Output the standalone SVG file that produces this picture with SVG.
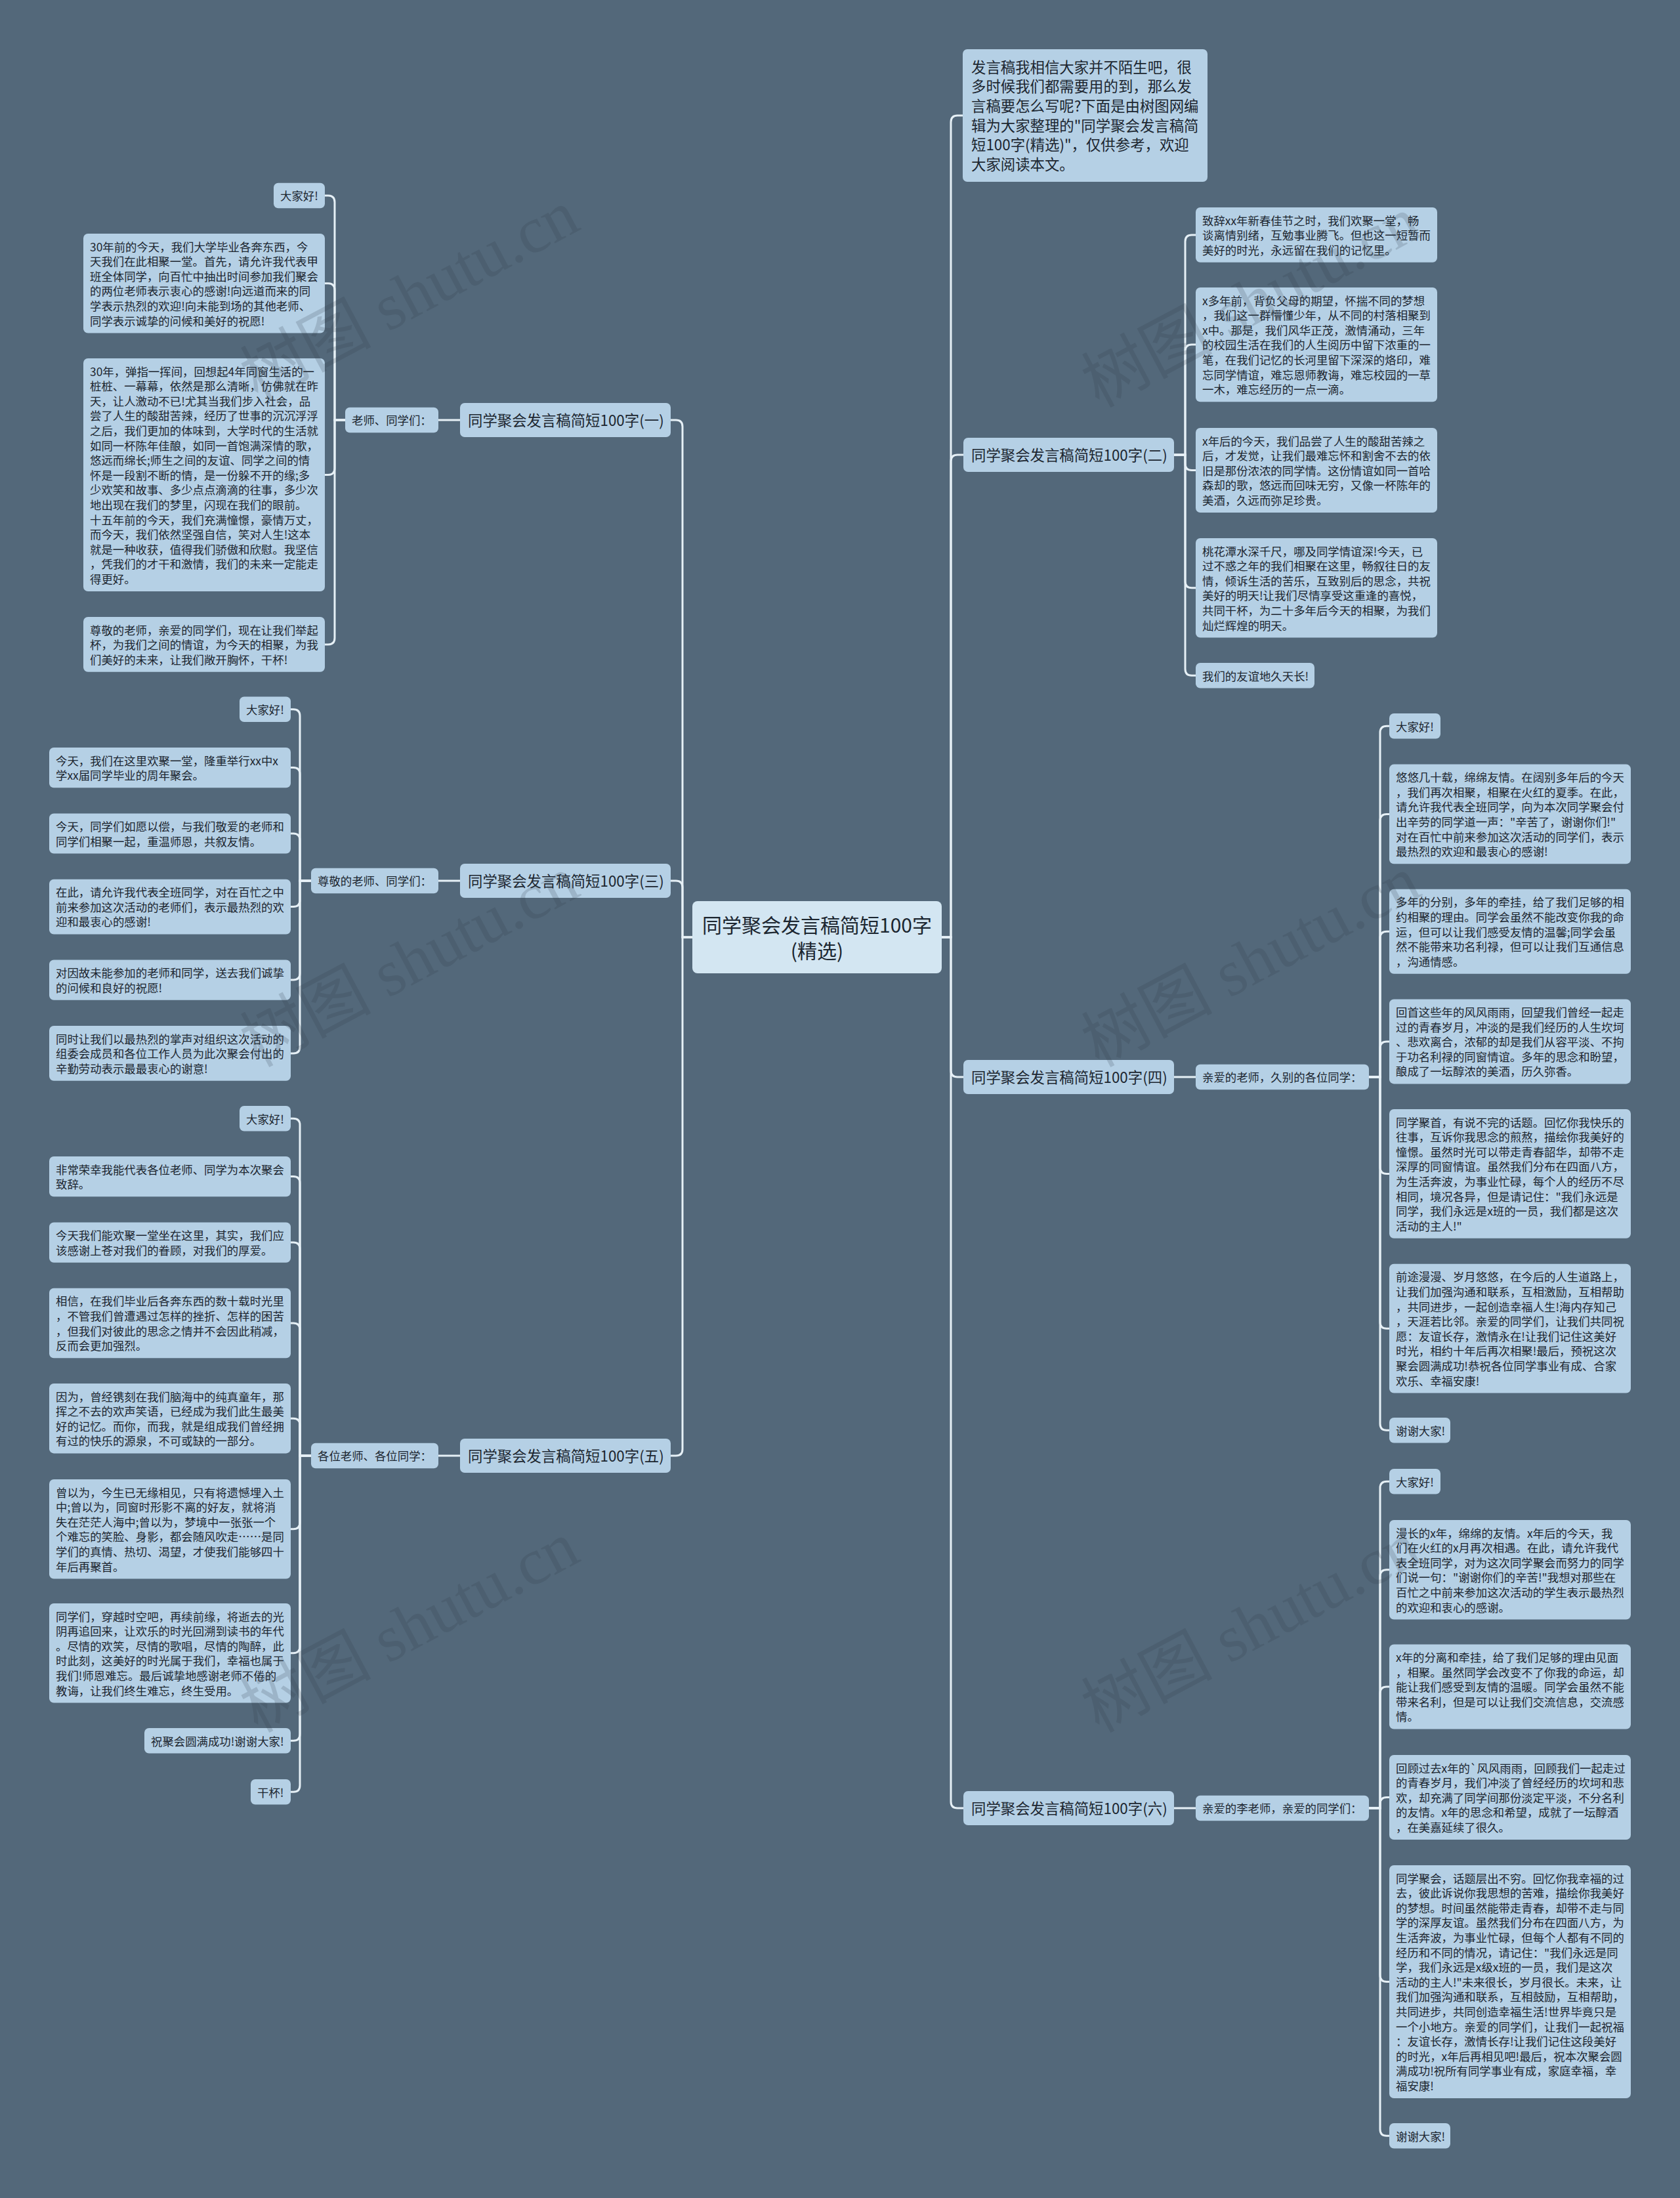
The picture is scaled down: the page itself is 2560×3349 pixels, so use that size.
<svg xmlns="http://www.w3.org/2000/svg" width="2560" height="3349" viewBox="0 0 2560 3349">
<style>
.bg{fill:#53687a}
.n{fill:#b5d0e5;rx:7px;ry:7px}
.c{fill:#d3e6f2;rx:8px;ry:8px}
.t{font-family:"Noto Sans CJK SC","Noto Sans",sans-serif;font-size:17.4px;fill:#1c2630}
.bt{font-family:"Noto Sans CJK SC","Noto Sans",sans-serif;font-size:22.4px;fill:#1c2630}
.ct{font-family:"Noto Sans CJK SC","Noto Sans",sans-serif;font-size:30px;fill:#1c2630}
.conn path{fill:none;stroke:#e6f0f6;stroke-width:3}
.wm{font-family:"Liberation Serif","Noto Sans CJK SC",serif;font-size:100px;fill:#2e3c48;opacity:0.18}
</style>
<rect class="bg" x="0" y="0" width="2560" height="3349"/>

<g class="conn" id="connectors">
<!-- center to branches -->
<path d="M1055,1428 H1040 V650 Q1040,640 1030,640 H1022"/>
<path d="M1055,1428 H1040 V1352 Q1040,1342 1030,1342 H1022"/>
<path d="M1055,1428 H1040 V2208 Q1040,2218 1030,2218 H1022"/>
<path d="M1435,1428 H1449 V186 Q1449,176 1459,176 H1467"/>
<path d="M1435,1428 H1449 V703 Q1449,693 1459,693 H1468"/>
<path d="M1435,1428 H1449 V1631 Q1449,1641 1459,1641 H1468"/>
<path d="M1435,1428 H1449 V2745 Q1449,2755 1459,2755 H1468"/>
<!-- branch to labels -->
<path d="M701,640 H668"/>
<path d="M701,1342 H668"/>
<path d="M701,2218 H668"/>
<path d="M1789,1641 H1822"/>
<path d="M1789,2755 H1822"/>
<!-- (一) -->
<path d="M526,640 H510 V308 Q510,298 500,298 H495"/>
<path d="M526,640 H510 V441.8 Q510,431.8 500,431.8 H495"/>
<path d="M526,640 H510 V713.5 Q510,723.5 500,723.5 H495"/>
<path d="M526,640 H510 V971.9 Q510,981.9 500,981.9 H495"/>
<!-- (三) -->
<path d="M474,1342 H457 V1090.8 Q457,1080.8 447,1080.8 H443"/>
<path d="M474,1342 H457 V1179.6 Q457,1169.6 447,1169.6 H443"/>
<path d="M474,1342 H457 V1280 Q457,1270 447,1270 H443"/>
<path d="M474,1342 H457 V1371.6 Q457,1381.6 447,1381.6 H443"/>
<path d="M474,1342 H457 V1483.1 Q457,1493.1 447,1493.1 H443"/>
<path d="M474,1342 H457 V1594.9 Q457,1604.9 447,1604.9 H443"/>
<!-- (五) -->
<path d="M474,2218 H457 V1714.3 Q457,1704.3 447,1704.3 H443"/>
<path d="M474,2218 H457 V1802.6 Q457,1792.6 447,1792.6 H443"/>
<path d="M474,2218 H457 V1903.1 Q457,1893.1 447,1893.1 H443"/>
<path d="M474,2218 H457 V2026 Q457,2016 447,2016 H443"/>
<path d="M474,2218 H457 V2171.2 Q457,2161.2 447,2161.2 H443"/>
<path d="M474,2218 H457 V2319.8 Q457,2329.8 447,2329.8 H443"/>
<path d="M474,2218 H457 V2508.8 Q457,2518.8 447,2518.8 H443"/>
<path d="M474,2218 H457 V2642.3 Q457,2652.3 447,2652.3 H443"/>
<path d="M474,2218 H457 V2720.3 Q457,2730.3 447,2730.3 H443"/>
<!-- (二) -->
<path d="M1789,693 H1806 V367.9 Q1806,357.9 1816,357.9 H1822"/>
<path d="M1789,693 H1806 V535.1 Q1806,525.1 1816,525.1 H1822"/>
<path d="M1789,693 H1806 V706.5 Q1806,716.5 1816,716.5 H1822"/>
<path d="M1789,693 H1806 V885.8 Q1806,895.8 1816,895.8 H1822"/>
<path d="M1789,693 H1806 V1019.3 Q1806,1029.3 1816,1029.3 H1822"/>
<!-- (四) -->
<path d="M2086,1641 H2103 V1116.3 Q2103,1106.3 2113,1106.3 H2117"/>
<path d="M2086,1641 H2103 V1250.4 Q2103,1240.4 2113,1240.4 H2117"/>
<path d="M2086,1641 H2103 V1429.3 Q2103,1419.3 2113,1419.3 H2117"/>
<path d="M2086,1641 H2103 V1596.9 Q2103,1586.9 2113,1586.9 H2117"/>
<path d="M2086,1641 H2103 V1778.4 Q2103,1788.4 2113,1788.4 H2117"/>
<path d="M2086,1641 H2103 V2014.2 Q2103,2024.2 2113,2024.2 H2117"/>
<path d="M2086,1641 H2103 V2169.3 Q2103,2179.3 2113,2179.3 H2117"/>
<!-- (六) -->
<path d="M2086,2755 H2103 V2267.3 Q2103,2257.3 2113,2257.3 H2117"/>
<path d="M2086,2755 H2103 V2401.8 Q2103,2391.8 2113,2391.8 H2117"/>
<path d="M2086,2755 H2103 V2580 Q2103,2570 2113,2570 H2117"/>
<path d="M2086,2755 H2103 V2748.5 Q2103,2738.5 2113,2738.5 H2117"/>
<path d="M2086,2755 H2103 V3009.5 Q2103,3019.5 2113,3019.5 H2117"/>
<path d="M2086,2755 H2103 V3244.3 Q2103,3254.3 2113,3254.3 H2117"/>
</g>

<g id="center">
<rect class="c" x="1055" y="1373" width="380" height="110"/>
<text class="ct" x="1245" y="1421" text-anchor="middle">同学聚会发言稿简短100字</text>
<text class="ct" x="1245" y="1459.5" text-anchor="middle">(精选)</text>
</g>

<g id="intro">
<rect class="n" x="1467" y="75" width="373" height="202"/>
<text class="bt" x="1480" y="110.5">
<tspan x="1480" dy="0">发言稿我相信大家并不陌生吧，很</tspan>
<tspan x="1480" dy="29.7">多时候我们都需要用的到，那么发</tspan>
<tspan x="1480" dy="29.7">言稿要怎么写呢?下面是由树图网编</tspan>
<tspan x="1480" dy="29.7">辑为大家整理的"同学聚会发言稿简</tspan>
<tspan x="1480" dy="29.7">短100字(精选)"，仅供参考，欢迎</tspan>
<tspan x="1480" dy="29.7">大家阅读本文。</tspan>
</text>
</g>

<!-- branches -->
<g id="b1"><rect class="n" x="701" y="614" width="321" height="52"/><text class="bt" x="713" y="648.5">同学聚会发言稿简短100字(一)</text></g>
<g id="b3"><rect class="n" x="701" y="1316" width="321" height="52"/><text class="bt" x="713" y="1350.5">同学聚会发言稿简短100字(三)</text></g>
<g id="b5"><rect class="n" x="701" y="2192" width="321" height="52"/><text class="bt" x="713" y="2226.5">同学聚会发言稿简短100字(五)</text></g>
<g id="b2"><rect class="n" x="1468" y="667" width="321" height="52"/><text class="bt" x="1480" y="701.5">同学聚会发言稿简短100字(二)</text></g>
<g id="b4"><rect class="n" x="1468" y="1615" width="321" height="52"/><text class="bt" x="1480" y="1649.5">同学聚会发言稿简短100字(四)</text></g>
<g id="b6"><rect class="n" x="1468" y="2729" width="321" height="52"/><text class="bt" x="1480" y="2763.5">同学聚会发言稿简短100字(六)</text></g>

<!-- labels -->
<g id="l1"><rect class="n" x="526" y="620.7" width="142" height="38.6"/><text class="t" x="536" y="647.2">老师、同学们：</text></g>
<g id="l3"><rect class="n" x="474" y="1322.7" width="194" height="38.6"/><text class="t" x="484" y="1349.2">尊敬的老师、同学们：</text></g>
<g id="l5"><rect class="n" x="474" y="2198.7" width="194" height="38.6"/><text class="t" x="484" y="2225.2">各位老师、各位同学：</text></g>
<g id="l4"><rect class="n" x="1822" y="1621.7" width="264" height="38.6"/><text class="t" x="1832" y="1648.2">亲爱的老师，久别的各位同学：</text></g>
<g id="l6"><rect class="n" x="1822" y="2735.7" width="264" height="38.6"/><text class="t" x="1832" y="2762.2">亲爱的李老师，亲爱的同学们：</text></g>

<!-- (一) children -->
<g id="f1"><rect class="n" x="417" y="278.7" width="78" height="38.6"/><text class="t" x="427" y="305.2">大家好!</text></g>
<g id="f2"><rect class="n" x="127" y="356" width="368" height="151.6"/><text class="t" x="137" y="382.5">
<tspan x="137" dy="0">30年前的今天，我们大学毕业各奔东西，今</tspan>
<tspan x="137" dy="22.6">天我们在此相聚一堂。首先，请允许我代表甲</tspan>
<tspan x="137" dy="22.6">班全体同学，向百忙中抽出时间参加我们聚会</tspan>
<tspan x="137" dy="22.6">的两位老师表示衷心的感谢!向远道而来的同</tspan>
<tspan x="137" dy="22.6">学表示热烈的欢迎!向未能到场的其他老师、</tspan>
<tspan x="137" dy="22.6">同学表示诚挚的问候和美好的祝愿!</tspan>
</text></g>
<g id="f3"><rect class="n" x="127" y="546" width="368" height="355"/><text class="t" x="137" y="572.5">
<tspan x="137" dy="0">30年，弹指一挥间，回想起4年同窗生活的一</tspan>
<tspan x="137" dy="22.6">桩桩、一幕幕，依然是那么清晰，仿佛就在昨</tspan>
<tspan x="137" dy="22.6">天，让人激动不已!尤其当我们步入社会，品</tspan>
<tspan x="137" dy="22.6">尝了人生的酸甜苦辣，经历了世事的沉沉浮浮</tspan>
<tspan x="137" dy="22.6">之后，我们更加的体味到，大学时代的生活就</tspan>
<tspan x="137" dy="22.6">如同一杯陈年佳酿，如同一首饱满深情的歌，</tspan>
<tspan x="137" dy="22.6">悠远而绵长;师生之间的友谊、同学之间的情</tspan>
<tspan x="137" dy="22.6">怀是一段割不断的情，是一份躲不开的缘;多</tspan>
<tspan x="137" dy="22.6">少欢笑和故事、多少点点滴滴的往事，多少次</tspan>
<tspan x="137" dy="22.6">地出现在我们的梦里，闪现在我们的眼前。</tspan>
<tspan x="137" dy="22.6">十五年前的今天，我们充满憧憬，豪情万丈，</tspan>
<tspan x="137" dy="22.6">而今天，我们依然坚强自信，笑对人生!这本</tspan>
<tspan x="137" dy="22.6">就是一种收获，值得我们骄傲和欣慰。我坚信</tspan>
<tspan x="137" dy="22.6">，凭我们的才干和激情，我们的未来一定能走</tspan>
<tspan x="137" dy="22.6">得更好。</tspan>
</text></g>
<g id="f4"><rect class="n" x="127" y="940" width="368" height="83.8"/><text class="t" x="137" y="966.5">
<tspan x="137" dy="0">尊敬的老师，亲爱的同学们，现在让我们举起</tspan>
<tspan x="137" dy="22.6">杯，为我们之间的情谊，为今天的相聚，为我</tspan>
<tspan x="137" dy="22.6">们美好的未来，让我们敞开胸怀，干杯!</tspan>
</text></g>

<!-- (三) children -->
<g id="g1"><rect class="n" x="365" y="1061.5" width="78" height="38.6"/><text class="t" x="375" y="1088">大家好!</text></g>
<g id="g2"><rect class="n" x="75" y="1139" width="368" height="61.2"/><text class="t" x="85" y="1165.5">
<tspan x="85" dy="0">今天，我们在这里欢聚一堂，隆重举行xx中x</tspan>
<tspan x="85" dy="22.6">学xx届同学毕业的周年聚会。</tspan>
</text></g>
<g id="g3"><rect class="n" x="75" y="1239.4" width="368" height="61.2"/><text class="t" x="85" y="1265.9">
<tspan x="85" dy="0">今天，同学们如愿以偿，与我们敬爱的老师和</tspan>
<tspan x="85" dy="22.6">同学们相聚一起，重温师恩，共叙友情。</tspan>
</text></g>
<g id="g4"><rect class="n" x="75" y="1339.7" width="368" height="83.8"/><text class="t" x="85" y="1366.2">
<tspan x="85" dy="0">在此，请允许我代表全班同学，对在百忙之中</tspan>
<tspan x="85" dy="22.6">前来参加这次活动的老师们，表示最热烈的欢</tspan>
<tspan x="85" dy="22.6">迎和最衷心的感谢!</tspan>
</text></g>
<g id="g5"><rect class="n" x="75" y="1462.5" width="368" height="61.2"/><text class="t" x="85" y="1489">
<tspan x="85" dy="0">对因故未能参加的老师和同学，送去我们诚挚</tspan>
<tspan x="85" dy="22.6">的问候和良好的祝愿!</tspan>
</text></g>
<g id="g6"><rect class="n" x="75" y="1563" width="368" height="83.8"/><text class="t" x="85" y="1589.5">
<tspan x="85" dy="0">同时让我们以最热烈的掌声对组织这次活动的</tspan>
<tspan x="85" dy="22.6">组委会成员和各位工作人员为此次聚会付出的</tspan>
<tspan x="85" dy="22.6">辛勤劳动表示最最衷心的谢意!</tspan>
</text></g>

<!-- (五) children -->
<g id="h1"><rect class="n" x="365" y="1685" width="78" height="38.6"/><text class="t" x="375" y="1711.5">大家好!</text></g>
<g id="h2"><rect class="n" x="75" y="1762" width="368" height="61.2"/><text class="t" x="85" y="1788.5">
<tspan x="85" dy="0">非常荣幸我能代表各位老师、同学为本次聚会</tspan>
<tspan x="85" dy="22.6">致辞。</tspan>
</text></g>
<g id="h3"><rect class="n" x="75" y="1862.5" width="368" height="61.2"/><text class="t" x="85" y="1889">
<tspan x="85" dy="0">今天我们能欢聚一堂坐在这里，其实，我们应</tspan>
<tspan x="85" dy="22.6">该感谢上苍对我们的眷顾，对我们的厚爱。</tspan>
</text></g>
<g id="h4"><rect class="n" x="75" y="1962.8" width="368" height="106.4"/><text class="t" x="85" y="1989.3">
<tspan x="85" dy="0">相信，在我们毕业后各奔东西的数十载时光里</tspan>
<tspan x="85" dy="22.6">，不管我们曾遭遇过怎样的挫折、怎样的困苦</tspan>
<tspan x="85" dy="22.6">，但我们对彼此的思念之情并不会因此稍减，</tspan>
<tspan x="85" dy="22.6">反而会更加强烈。</tspan>
</text></g>
<g id="h5"><rect class="n" x="75" y="2108" width="368" height="106.4"/><text class="t" x="85" y="2134.5">
<tspan x="85" dy="0">因为，曾经镌刻在我们脑海中的纯真童年，那</tspan>
<tspan x="85" dy="22.6">挥之不去的欢声笑语，已经成为我们此生最美</tspan>
<tspan x="85" dy="22.6">好的记忆。而你，而我，就是组成我们曾经拥</tspan>
<tspan x="85" dy="22.6">有过的快乐的源泉，不可或缺的一部分。</tspan>
</text></g>
<g id="h6"><rect class="n" x="75" y="2254" width="368" height="151.6"/><text class="t" x="85" y="2280.5">
<tspan x="85" dy="0">曾以为，今生已无缘相见，只有将遗憾埋入土</tspan>
<tspan x="85" dy="22.6">中;曾以为，同窗时形影不离的好友，就将消</tspan>
<tspan x="85" dy="22.6">失在茫茫人海中;曾以为，梦境中一张张一个</tspan>
<tspan x="85" dy="22.6">个难忘的笑脸、身影，都会随风吹走……是同</tspan>
<tspan x="85" dy="22.6">学们的真情、热切、渴望，才使我们能够四十</tspan>
<tspan x="85" dy="22.6">年后再聚首。</tspan>
</text></g>
<g id="h7"><rect class="n" x="75" y="2443" width="368" height="151.6"/><text class="t" x="85" y="2469.5">
<tspan x="85" dy="0">同学们，穿越时空吧，再续前缘，将逝去的光</tspan>
<tspan x="85" dy="22.6">阴再追回来，让欢乐的时光回溯到读书的年代</tspan>
<tspan x="85" dy="22.6">。尽情的欢笑，尽情的歌唱，尽情的陶醉，此</tspan>
<tspan x="85" dy="22.6">时此刻，这美好的时光属于我们，幸福也属于</tspan>
<tspan x="85" dy="22.6">我们!师恩难忘。最后诚挚地感谢老师不倦的</tspan>
<tspan x="85" dy="22.6">教诲，让我们终生难忘，终生受用。</tspan>
</text></g>
<g id="h8"><rect class="n" x="220" y="2633" width="223" height="38.6"/><text class="t" x="230" y="2659.5">祝聚会圆满成功!谢谢大家!</text></g>
<g id="h9"><rect class="n" x="382" y="2711" width="61" height="38.6"/><text class="t" x="392" y="2737.5">干杯!</text></g>

<!-- (二) children -->
<g id="c1"><rect class="n" x="1822" y="316" width="368" height="83.8"/><text class="t" x="1832" y="342.5">
<tspan x="1832" dy="0">致辞xx年新春佳节之时，我们欢聚一堂，畅</tspan>
<tspan x="1832" dy="22.6">谈离情别绪，互勉事业腾飞。但也这一短暂而</tspan>
<tspan x="1832" dy="22.6">美好的时光，永远留在我们的记忆里。</tspan>
</text></g>
<g id="c2"><rect class="n" x="1822" y="438" width="368" height="174.2"/><text class="t" x="1832" y="464.5">
<tspan x="1832" dy="0">x多年前，背负父母的期望，怀揣不同的梦想</tspan>
<tspan x="1832" dy="22.6">，我们这一群懵懂少年，从不同的村落相聚到</tspan>
<tspan x="1832" dy="22.6">x中。那是，我们风华正茂，激情涌动，三年</tspan>
<tspan x="1832" dy="22.6">的校园生活在我们的人生阅历中留下浓重的一</tspan>
<tspan x="1832" dy="22.6">笔，在我们记忆的长河里留下深深的烙印，难</tspan>
<tspan x="1832" dy="22.6">忘同学情谊，难忘恩师教诲，难忘校园的一草</tspan>
<tspan x="1832" dy="22.6">一木，难忘经历的一点一滴。</tspan>
</text></g>
<g id="c3"><rect class="n" x="1822" y="652" width="368" height="129"/><text class="t" x="1832" y="678.5">
<tspan x="1832" dy="0">x年后的今天，我们品尝了人生的酸甜苦辣之</tspan>
<tspan x="1832" dy="22.6">后，才发觉，让我们最难忘怀和割舍不去的依</tspan>
<tspan x="1832" dy="22.6">旧是那份浓浓的同学情。这份情谊如同一首哈</tspan>
<tspan x="1832" dy="22.6">森却的歌，悠远而回味无穷，又像一杯陈年的</tspan>
<tspan x="1832" dy="22.6">美酒，久远而弥足珍贵。</tspan>
</text></g>
<g id="c4"><rect class="n" x="1822" y="820" width="368" height="151.6"/><text class="t" x="1832" y="846.5">
<tspan x="1832" dy="0">桃花潭水深千尺，哪及同学情谊深!今天，已</tspan>
<tspan x="1832" dy="22.6">过不惑之年的我们相聚在这里，畅叙往日的友</tspan>
<tspan x="1832" dy="22.6">情，倾诉生活的苦乐，互致别后的思念，共祝</tspan>
<tspan x="1832" dy="22.6">美好的明天!让我们尽情享受这重逢的喜悦，</tspan>
<tspan x="1832" dy="22.6">共同干杯，为二十多年后今天的相聚，为我们</tspan>
<tspan x="1832" dy="22.6">灿烂辉煌的明天。</tspan>
</text></g>
<g id="c5"><rect class="n" x="1822" y="1010" width="181" height="38.6"/><text class="t" x="1832" y="1036.5">我们的友谊地久天长!</text></g>

<!-- (四) children -->
<g id="d1"><rect class="n" x="2117" y="1087" width="78" height="38.6"/><text class="t" x="2127" y="1113.5">大家好!</text></g>
<g id="d2"><rect class="n" x="2117" y="1164.6" width="368" height="151.6"/><text class="t" x="2127" y="1191.1">
<tspan x="2127" dy="0">悠悠几十载，绵绵友情。在阔别多年后的今天</tspan>
<tspan x="2127" dy="22.6">，我们再次相聚，相聚在火红的夏季。在此，</tspan>
<tspan x="2127" dy="22.6">请允许我代表全班同学，向为本次同学聚会付</tspan>
<tspan x="2127" dy="22.6">出辛劳的同学道一声："辛苦了，谢谢你们!"</tspan>
<tspan x="2127" dy="22.6">对在百忙中前来参加这次活动的同学们，表示</tspan>
<tspan x="2127" dy="22.6">最热烈的欢迎和最衷心的感谢!</tspan>
</text></g>
<g id="d3"><rect class="n" x="2117" y="1354.8" width="368" height="129"/><text class="t" x="2127" y="1381.3">
<tspan x="2127" dy="0">多年的分别，多年的牵挂，给了我们足够的相</tspan>
<tspan x="2127" dy="22.6">约相聚的理由。同学会虽然不能改变你我的命</tspan>
<tspan x="2127" dy="22.6">运，但可以让我们感受友情的温馨;同学会虽</tspan>
<tspan x="2127" dy="22.6">然不能带来功名利禄，但可以让我们互通信息</tspan>
<tspan x="2127" dy="22.6">，沟通情感。</tspan>
</text></g>
<g id="d4"><rect class="n" x="2117" y="1522.4" width="368" height="129"/><text class="t" x="2127" y="1548.9">
<tspan x="2127" dy="0">回首这些年的风风雨雨，回望我们曾经一起走</tspan>
<tspan x="2127" dy="22.6">过的青春岁月，冲淡的是我们经历的人生坎坷</tspan>
<tspan x="2127" dy="22.6">、悲欢离合，浓郁的却是我们从容平淡、不拘</tspan>
<tspan x="2127" dy="22.6">于功名利禄的同窗情谊。多年的思念和盼望，</tspan>
<tspan x="2127" dy="22.6">酿成了一坛醇浓的美酒，历久弥香。</tspan>
</text></g>
<g id="d5"><rect class="n" x="2117" y="1690" width="368" height="196.8"/><text class="t" x="2127" y="1716.5">
<tspan x="2127" dy="0">同学聚首，有说不完的话题。回忆你我快乐的</tspan>
<tspan x="2127" dy="22.6">往事，互诉你我思念的煎熬，描绘你我美好的</tspan>
<tspan x="2127" dy="22.6">憧憬。虽然时光可以带走青春韶华，却带不走</tspan>
<tspan x="2127" dy="22.6">深厚的同窗情谊。虽然我们分布在四面八方，</tspan>
<tspan x="2127" dy="22.6">为生活奔波，为事业忙碌，每个人的经历不尽</tspan>
<tspan x="2127" dy="22.6">相同，境况各异，但是请记住："我们永远是</tspan>
<tspan x="2127" dy="22.6">同学，我们永远是x班的一员，我们都是这次</tspan>
<tspan x="2127" dy="22.6">活动的主人!"</tspan>
</text></g>
<g id="d6"><rect class="n" x="2117" y="1925.8" width="368" height="196.8"/><text class="t" x="2127" y="1952.3">
<tspan x="2127" dy="0">前途漫漫、岁月悠悠，在今后的人生道路上，</tspan>
<tspan x="2127" dy="22.6">让我们加强沟通和联系，互相激励，互相帮助</tspan>
<tspan x="2127" dy="22.6">，共同进步，一起创造幸福人生!海内存知己</tspan>
<tspan x="2127" dy="22.6">，天涯若比邻。亲爱的同学们，让我们共同祝</tspan>
<tspan x="2127" dy="22.6">愿：友谊长存，激情永在!让我们记住这美好</tspan>
<tspan x="2127" dy="22.6">时光，相约十年后再次相聚!最后，预祝这次</tspan>
<tspan x="2127" dy="22.6">聚会圆满成功!恭祝各位同学事业有成、合家</tspan>
<tspan x="2127" dy="22.6">欢乐、幸福安康!</tspan>
</text></g>
<g id="d7"><rect class="n" x="2117" y="2160" width="93" height="38.6"/><text class="t" x="2127" y="2186.5">谢谢大家!</text></g>

<!-- (六) children -->
<g id="e1"><rect class="n" x="2117" y="2238" width="78" height="38.6"/><text class="t" x="2127" y="2264.5">大家好!</text></g>
<g id="e2"><rect class="n" x="2117" y="2316" width="368" height="151.6"/><text class="t" x="2127" y="2342.5">
<tspan x="2127" dy="0">漫长的x年，绵绵的友情。x年后的今天，我</tspan>
<tspan x="2127" dy="22.6">们在火红的x月再次相遇。在此，请允许我代</tspan>
<tspan x="2127" dy="22.6">表全班同学，对为这次同学聚会而努力的同学</tspan>
<tspan x="2127" dy="22.6">们说一句："谢谢你们的辛苦!"我想对那些在</tspan>
<tspan x="2127" dy="22.6">百忙之中前来参加这次活动的学生表示最热烈</tspan>
<tspan x="2127" dy="22.6">的欢迎和衷心的感谢。</tspan>
</text></g>
<g id="e3"><rect class="n" x="2117" y="2505.5" width="368" height="129"/><text class="t" x="2127" y="2532">
<tspan x="2127" dy="0">x年的分离和牵挂，给了我们足够的理由见面</tspan>
<tspan x="2127" dy="22.6">，相聚。虽然同学会改变不了你我的命运，却</tspan>
<tspan x="2127" dy="22.6">能让我们感受到友情的温暖。同学会虽然不能</tspan>
<tspan x="2127" dy="22.6">带来名利，但是可以让我们交流信息，交流感</tspan>
<tspan x="2127" dy="22.6">情。</tspan>
</text></g>
<g id="e4"><rect class="n" x="2117" y="2674" width="368" height="129"/><text class="t" x="2127" y="2700.5">
<tspan x="2127" dy="0">回顾过去x年的`风风雨雨，回顾我们一起走过</tspan>
<tspan x="2127" dy="22.6">的青春岁月，我们冲淡了曾经经历的坎坷和悲</tspan>
<tspan x="2127" dy="22.6">欢，却充满了同学间那份淡定平淡，不分名利</tspan>
<tspan x="2127" dy="22.6">的友情。x年的思念和希望，成就了一坛醇酒</tspan>
<tspan x="2127" dy="22.6">，在美嘉延续了很久。</tspan>
</text></g>
<g id="e5"><rect class="n" x="2117" y="2842" width="368" height="355"/><text class="t" x="2127" y="2868.5">
<tspan x="2127" dy="0">同学聚会，话题层出不穷。回忆你我幸福的过</tspan>
<tspan x="2127" dy="22.6">去，彼此诉说你我思想的苦难，描绘你我美好</tspan>
<tspan x="2127" dy="22.6">的梦想。时间虽然能带走青春，却带不走与同</tspan>
<tspan x="2127" dy="22.6">学的深厚友谊。虽然我们分布在四面八方，为</tspan>
<tspan x="2127" dy="22.6">生活奔波，为事业忙碌，但每个人都有不同的</tspan>
<tspan x="2127" dy="22.6">经历和不同的情况，请记住："我们永远是同</tspan>
<tspan x="2127" dy="22.6">学，我们永远是x级x班的一员，我们是这次</tspan>
<tspan x="2127" dy="22.6">活动的主人!"未来很长，岁月很长。未来，让</tspan>
<tspan x="2127" dy="22.6">我们加强沟通和联系，互相鼓励，互相帮助，</tspan>
<tspan x="2127" dy="22.6">共同进步，共同创造幸福生活!世界毕竟只是</tspan>
<tspan x="2127" dy="22.6">一个小地方。亲爱的同学们，让我们一起祝福</tspan>
<tspan x="2127" dy="22.6">：友谊长存，激情长存!让我们记住这段美好</tspan>
<tspan x="2127" dy="22.6">的时光，x年后再相见吧!最后，祝本次聚会圆</tspan>
<tspan x="2127" dy="22.6">满成功!祝所有同学事业有成，家庭幸福，幸</tspan>
<tspan x="2127" dy="22.6">福安康!</tspan>
</text></g>
<g id="e6"><rect class="n" x="2117" y="3235" width="93" height="38.6"/><text class="t" x="2127" y="3261.5">谢谢大家!</text></g>

<g id="watermark">
<text class="wm" text-anchor="middle" transform="translate(640,480) rotate(-28)">树图 shutu.cn</text>
<text class="wm" text-anchor="middle" transform="translate(1922,490) rotate(-28)">树图 shutu.cn</text>
<text class="wm" text-anchor="middle" transform="translate(640,1495) rotate(-28)">树图 shutu.cn</text>
<text class="wm" text-anchor="middle" transform="translate(1922,1495) rotate(-28)">树图 shutu.cn</text>
<text class="wm" text-anchor="middle" transform="translate(640,2509) rotate(-28)">树图 shutu.cn</text>
<text class="wm" text-anchor="middle" transform="translate(1922,2509) rotate(-28)">树图 shutu.cn</text>
</g>
</svg>
